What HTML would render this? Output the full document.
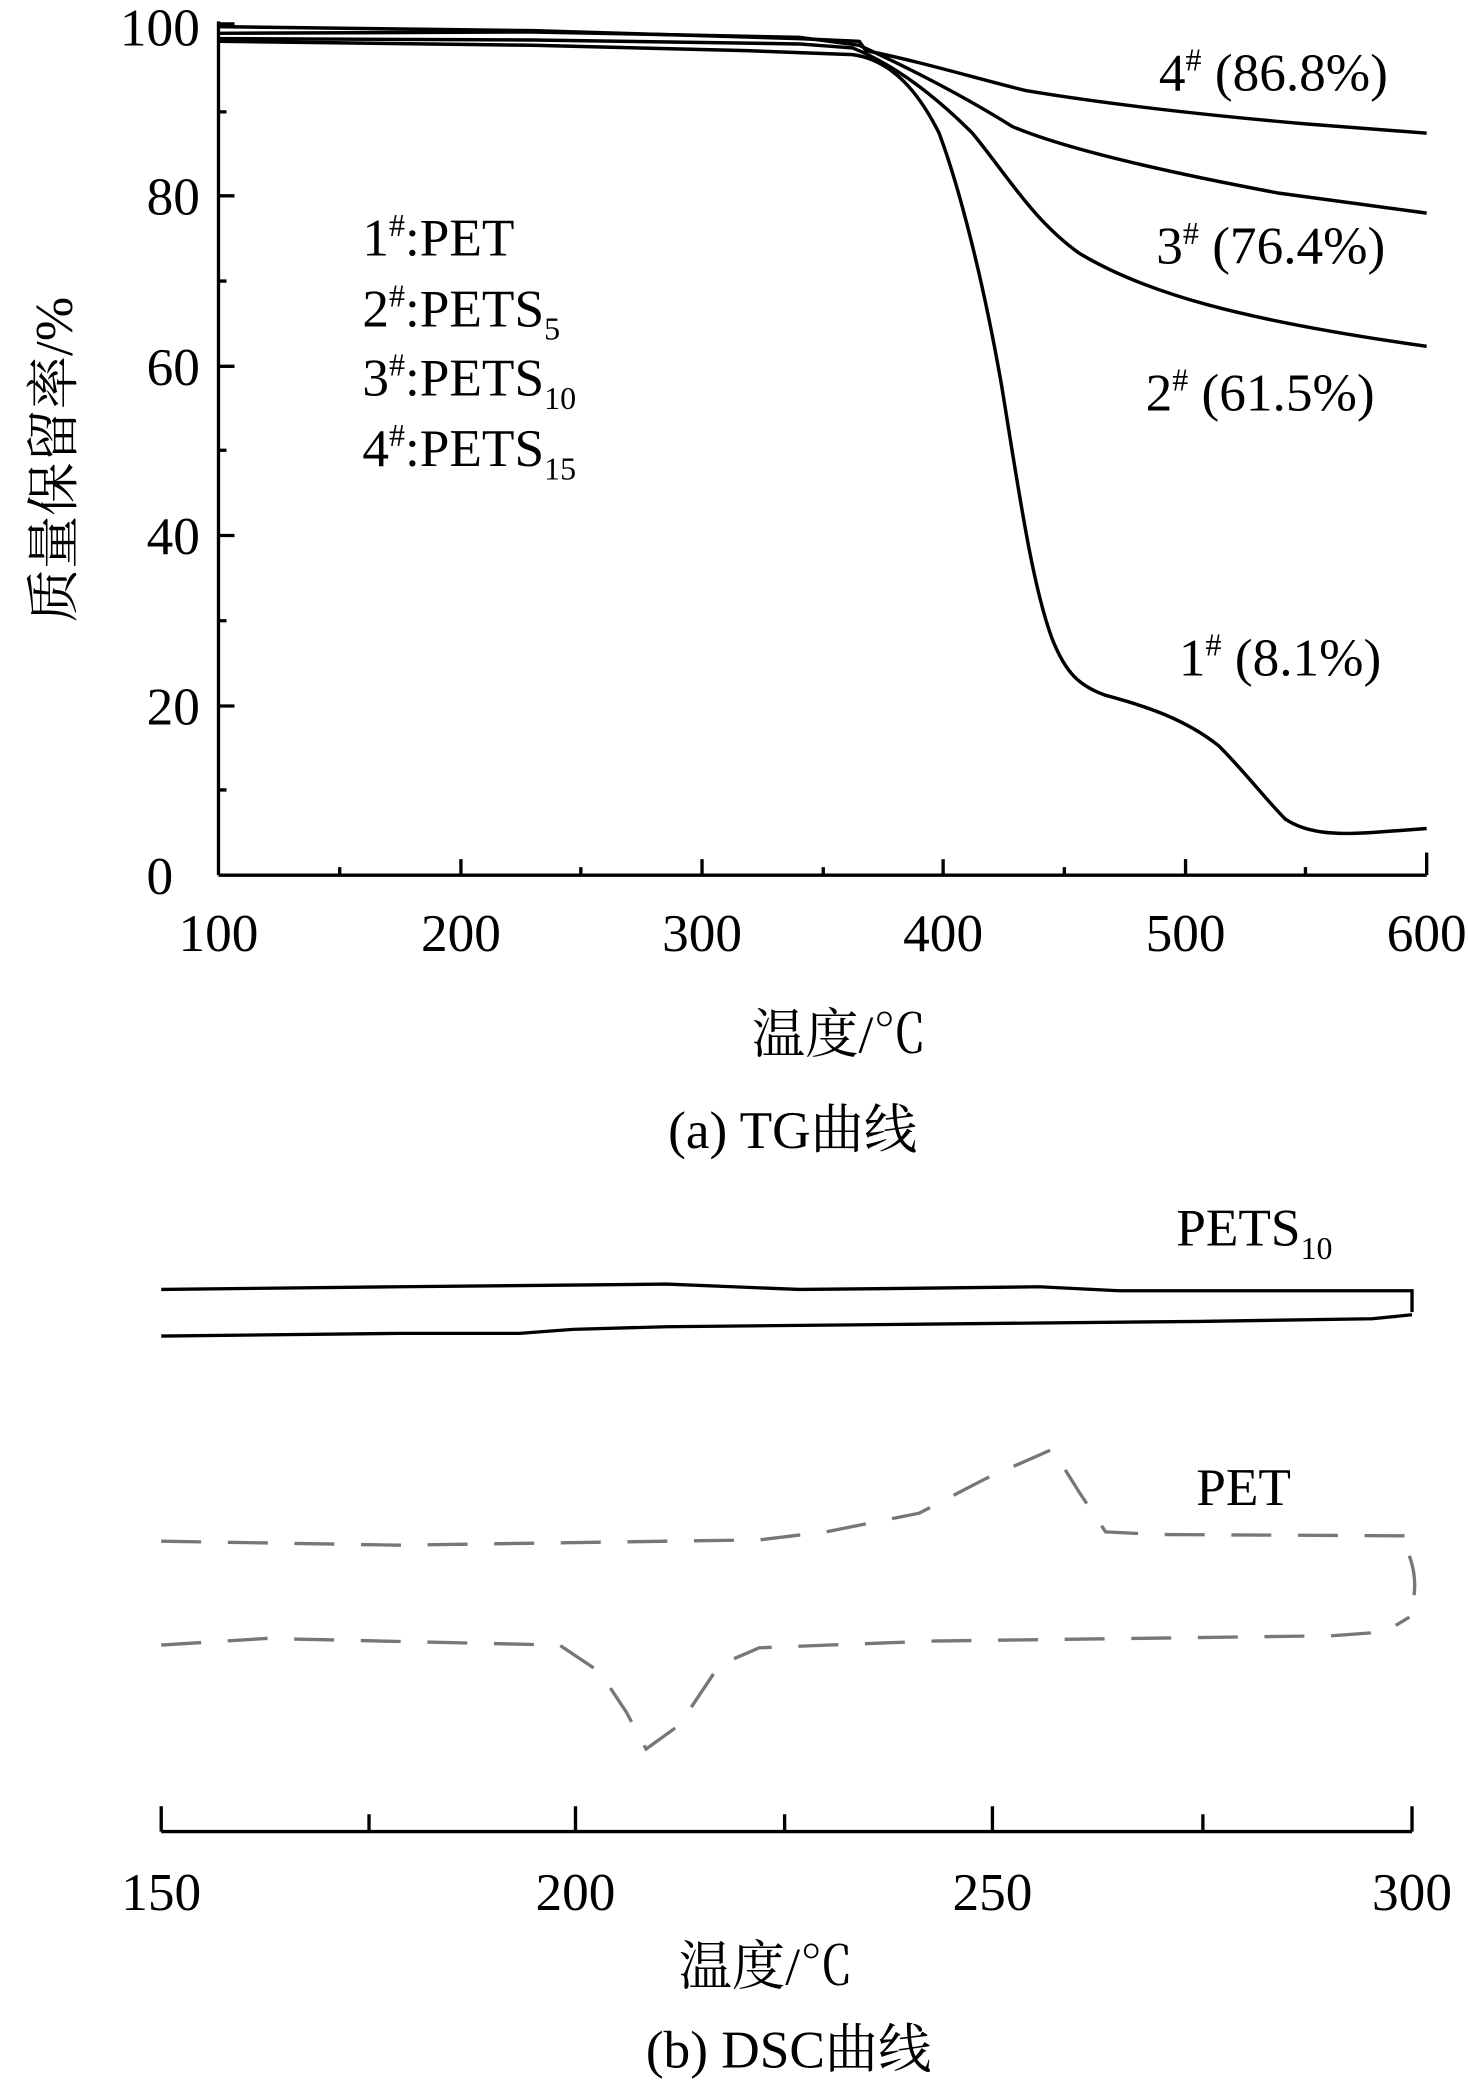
<!DOCTYPE html>
<html><head><meta charset="utf-8"><style>
html,body{margin:0;padding:0;background:#fff;}
svg{display:block;}
text{font-family:"Liberation Serif","Noto Serif CJK SC",serif;fill:#000;}
</style></head><body>
<svg width="1468" height="2086" viewBox="0 0 1102 1566" xmlns="http://www.w3.org/2000/svg">
<g stroke="#000" stroke-width="2.5" fill="none">
<line x1="164" y1="16" x2="164" y2="657"/>
<line x1="164" y1="657" x2="1071" y2="657"/>
<line x1="1071" y1="640" x2="1071" y2="657"/>
<path d="M164 18h12M164 84h6M164 147h12M164 211h6M164 275h12M164 338h6M164 402h12M164 466h6M164 530h12M164 593h6"/>
<path d="M255 657v-6M346 657v-12M436 657v-6M527 657v-12M618 657v-6M708 657v-12M799 657v-6M890 657v-12M980 657v-6"/>
</g>
<g stroke="#000" stroke-width="2.6" fill="none" stroke-linejoin="round">
<path d="M164 31 L400 34 L560 38 L640 41 C670 45 690 70 705 100 C720 140 738 210 752 290 C765 370 775 440 790 480 C800 505 810 515 830 522 C860 530 890 540 915 560 C935 580 950 600 965 615 C980 625 1000 627 1030 625 L1071 622"/>
<path d="M164 29 L400 30 L600 33 L640 36 C670 48 700 70 730 100 C755 130 775 165 810 190 C860 220 930 240 1071 260"/>
<path d="M164 25 L400 24 L600 28 L645 34 C680 50 720 70 760 95 C800 112 880 130 960 145 L1071 160"/>
<path d="M164 20 L400 23 L600 29 L645 31 L650 38 C690 46 730 58 770 68 C830 78 900 86 980 93 L1071 100"/>
</g>
<g font-size="40">
<text x="150" y="34" text-anchor="end">100</text>
<text x="150" y="161" text-anchor="end">80</text>
<text x="150" y="289" text-anchor="end">60</text>
<text x="150" y="416" text-anchor="end">40</text>
<text x="150" y="544" text-anchor="end">20</text>
<text x="130" y="671" text-anchor="end">0</text>
<text x="164" y="714" text-anchor="middle">100</text>
<text x="346" y="714" text-anchor="middle">200</text>
<text x="527" y="714" text-anchor="middle">300</text>
<text x="708" y="714" text-anchor="middle">400</text>
<text x="890" y="714" text-anchor="middle">500</text>
<text x="1071" y="714" text-anchor="middle">600</text>
<text x="630" y="790" text-anchor="middle">温度/℃</text>
<text x="595" y="862" text-anchor="middle">(a) TG曲线</text>
<text transform="translate(54,345) rotate(-90)" text-anchor="middle">质量保留率/%</text>
<text x="870" y="68">4<tspan font-size="24" dy="-15">#</tspan><tspan dy="15"> (86.8%)</tspan></text>
<text x="868" y="198">3<tspan font-size="24" dy="-15">#</tspan><tspan dy="15"> (76.4%)</tspan></text>
<text x="860" y="308">2<tspan font-size="24" dy="-15">#</tspan><tspan dy="15"> (61.5%)</tspan></text>
<text x="885" y="507">1<tspan font-size="24" dy="-15">#</tspan><tspan dy="15"> (8.1%)</tspan></text>
<text x="272" y="192">1<tspan font-size="24" dy="-15">#</tspan><tspan dy="15">:PET</tspan></text>
<text x="272" y="245">2<tspan font-size="24" dy="-15">#</tspan><tspan dy="15">:PETS</tspan><tspan font-size="24" dy="10">5</tspan></text>
<text x="272" y="297">3<tspan font-size="24" dy="-15">#</tspan><tspan dy="15">:PETS</tspan><tspan font-size="24" dy="10">10</tspan></text>
<text x="272" y="350">4<tspan font-size="24" dy="-15">#</tspan><tspan dy="15">:PETS</tspan><tspan font-size="24" dy="10">15</tspan></text>
<text x="883" y="935">PETS<tspan font-size="24" dy="10">10</tspan></text>
<text x="898" y="1130">PET</text>
<text x="121" y="1434" text-anchor="middle">150</text>
<text x="432" y="1434" text-anchor="middle">200</text>
<text x="745" y="1434" text-anchor="middle">250</text>
<text x="1060" y="1434" text-anchor="middle">300</text>
<text x="575" y="1490" text-anchor="middle">温度/℃</text>
<text x="592" y="1552" text-anchor="middle">(b) DSC曲线</text>
</g>
<g stroke="#000" stroke-width="2.5" fill="none">
<line x1="121" y1="1375" x2="1060" y2="1375"/>
<path d="M121 1375v-19M277 1375v-13M432 1375v-19M589 1375v-13M745 1375v-19M903 1375v-13M1060 1375v-19"/>
<path d="M121 968 L300 966 L500 964 L550 966 L600 968 L700 967 L780 966 L840 969 L1060 969 L1060 985"/>
<path d="M121 1003 L300 1001 L390 1001 L430 998 L500 996 L700 994 L900 992 L1030 990 L1060 987"/>
</g>
<g stroke="#777" stroke-width="2.5" fill="none" stroke-dasharray="30,20">
<path d="M121 1157 L300 1160 L570 1156 L620 1150 L690 1136 L740 1110 L790 1088 L810 1120 L830 1150 L870 1152 L1060 1153"/>
<path d="M1058 1168 Q1066 1190 1058 1212"/>
<path d="M121 1235 L200 1230 L420 1235 L450 1255 L470 1285 L485 1313 L510 1295 L540 1250 L570 1237 L700 1232 L1000 1228 L1040 1225 L1058 1214"/>
</g>
</svg>
</body></html>
